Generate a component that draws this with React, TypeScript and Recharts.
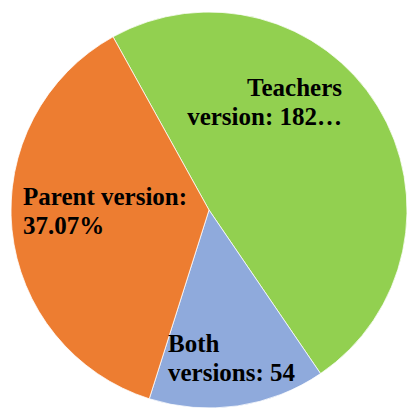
import { PieChart, Pie, Cell } from "recharts";

const categories = ["Teachers version", "Both versions", "Parent version"];
const counts = [182, 54, 139];
const labelLines = [
  ["Teachers", "version: 182…"],
  ["Both", "versions: 54"],
  ["Parent version:", "37.07%"],
];

const COLORS = ["#92D050", "#8FAADC", "#ED7D31"];

// where each label sits relative to the pie centre
const LABEL_POS = [
  { dx: 133, dy: -114, anchor: "end" },
  { dx: -41, dy: 142, anchor: "start" },
  { dx: -186, dy: -5, anchor: "start" },
];

const data = categories.map((name, i) => ({ name, value: counts[i] }));

function renderLabel(props: any) {
  const { cx, cy, index } = props;
  const pos = LABEL_POS[index];
  const lines = labelLines[index];
  return (
    <text
      x={cx + pos.dx}
      y={cy + pos.dy}
      textAnchor={pos.anchor}
      fill="#000"
      style={{
        fontFamily: '"Liberation Serif", "Times New Roman", serif',
        fontWeight: 700,
        fontSize: 25,
      }}>
      {lines.map((line, i) => (
        <tspan key={i} x={cx + pos.dx} dy={i === 0 ? 0 : 28.5}>
          {line}
        </tspan>
      ))}
    </text>
  );
}

export default function App() {
  return (
    <div style={{ position: "absolute", left: 0, top: 0 }}>
      <PieChart
        width={410}
        height={410}
        margin={{ top: 0, right: 0, bottom: 0, left: 0 }}>
        <Pie
          data={data}
          dataKey="value"
          nameKey="name"
          cx={209}
          cy={210}
          outerRadius={198}
          startAngle={119}
          endAngle={-241}
          stroke="#ffffff"
          strokeWidth={0.75}
          label={renderLabel}
          labelLine={false}
          isAnimationActive={false}>
          {data.map((_, index) => (
            <Cell key={`cell-${index}`} fill={COLORS[index]} />
          ))}
        </Pie>
      </PieChart>
    </div>
  );
}
